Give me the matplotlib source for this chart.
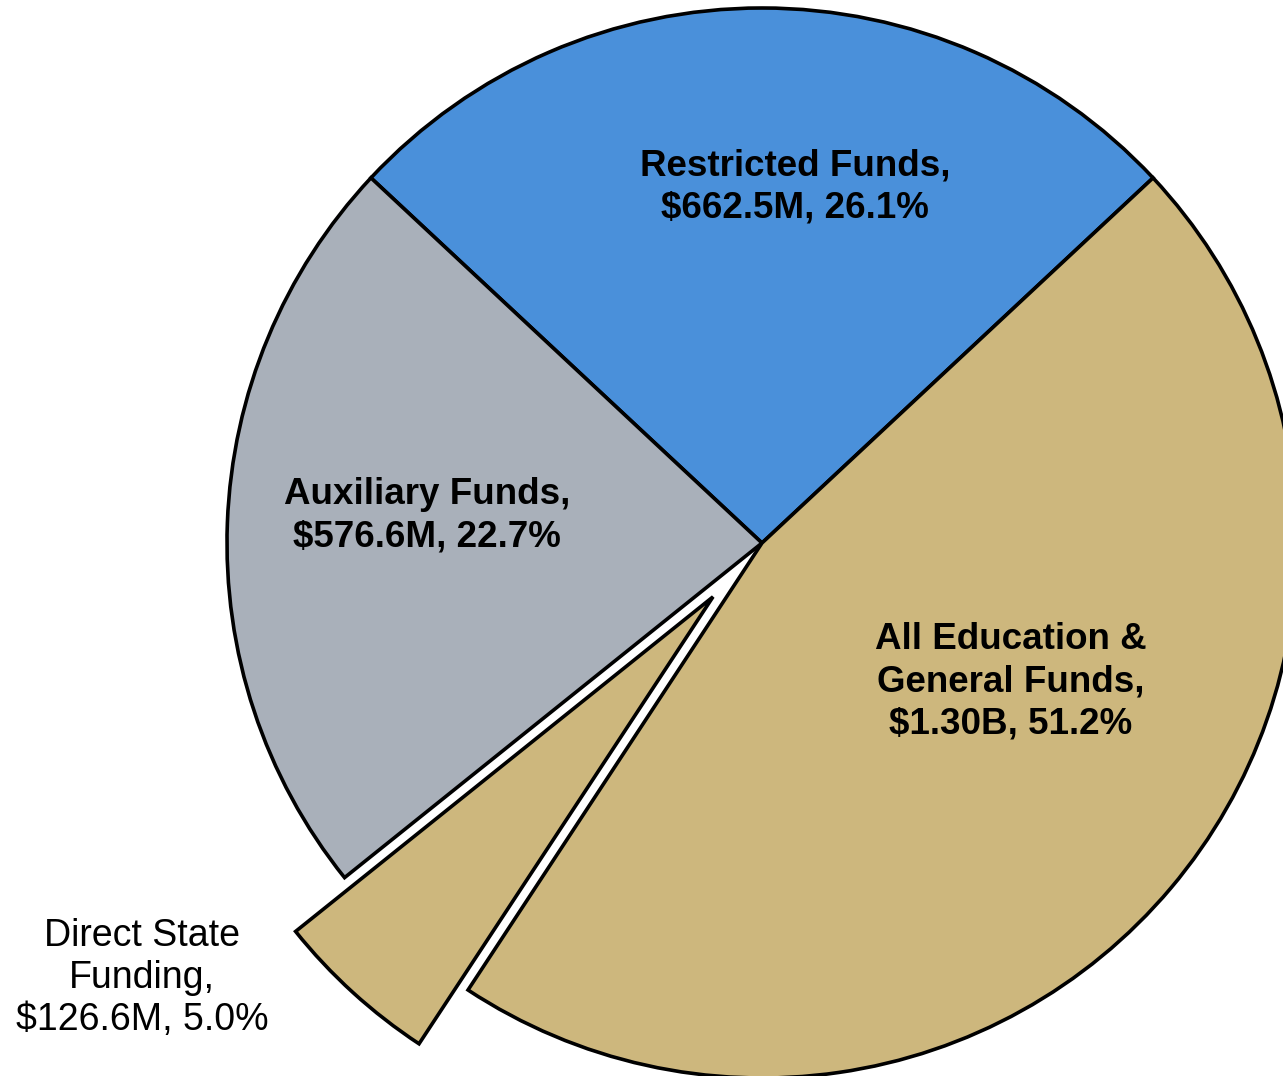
import matplotlib
matplotlib.use("Agg")
import matplotlib.pyplot as plt

plt.rcParams['font.family'] = ['Liberation Sans', 'DejaVu Sans']

# slices, counter-clockwise starting with the top one
names = ['Restricted Funds', 'Auxiliary Funds', 'Direct State Funding', 'Other E&G Funds']
values = [662.5, 576.6, 126.6, 1173.4]   # $M
colors = ['#4A90DA', '#A9B0BA', '#CDB77D', '#CDB77D']
explode = [0, 0, 0.136, 0]

labels = ['Restricted Funds,\n$662.5M, 26.1%',
          'Auxiliary Funds,\n$576.6M, 22.7%',
          'Direct State\nFunding,\n$126.6M, 5.0%',
          'All Education &\nGeneral Funds,\n$1.30B, 51.2%']

W, H = 1283, 1076
cx, cy, R = 762, 543, 535   # pie centre / radius in pixels

fig = plt.figure(figsize=(W / 100, H / 100), dpi=100)
ax = fig.add_axes([0, 0, 1, 1])

start = 90 - values[0] / sum(values) * 360 / 2
ax.pie(values, colors=colors, explode=explode, startangle=start,
       counterclock=True, radius=1,
       wedgeprops=dict(edgecolor='black', linewidth=2.6, joinstyle='miter'))

ax.set_xlim(-cx / R, (W - cx) / R)
ax.set_ylim(-(H - cy) / R, cy / R)
ax.set_aspect('auto')
ax.axis('off')


def px(x, y):
    return (x - cx) / R, (cy - y) / R


bold = dict(fontsize=26.5, fontweight='bold', ha='center', va='center', linespacing=1.27)
ax.text(*px(795, 187), labels[0], **bold)
ax.text(*px(427, 516), labels[1], **bold)
ax.text(*px(1011, 682), labels[3], **bold)
ax.text(*px(142, 978), labels[2], fontsize=27, ha='center', va='center', linespacing=1.2)

fig.savefig('out.png', dpi=100)
